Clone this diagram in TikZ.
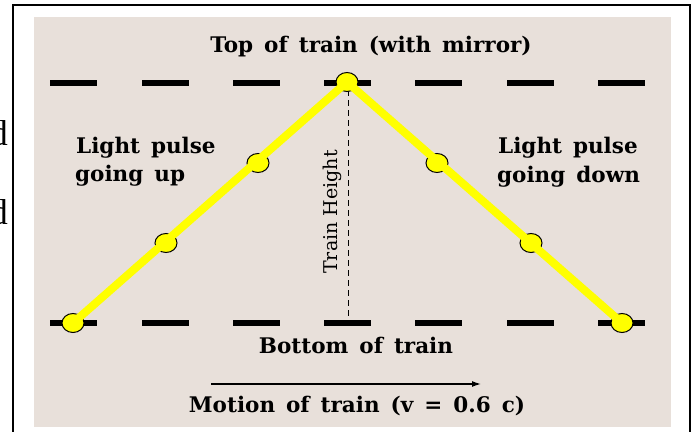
\documentclass[tikz,border=0pt]{standalone}
\usepackage{fontspec}
\setmainfont{DejaVu Serif}
\newfontfamily\dfont{Liberation Serif}
\usetikzlibrary{arrows.meta,shapes.geometric}
\definecolor{bg}{RGB}{232,224,218}
\definecolor{pulse}{RGB}{255,255,0}
\tikzset{
  lbl/.style={font={\fontsize{21.5}{25}\selectfont\bfseries\spaceskip=11pt\relax}, inner sep=0pt},
  dashseg/.style={line width=6.5pt, black},
  dot/.style={ellipse, draw=black, line width=1pt, fill=pulse, minimum width=22pt, minimum height=19pt, inner sep=0pt},
  beam/.style={pulse, line width=8pt, line join=miter},
  heightline/.style={black, line width=1pt, dash pattern=on 6pt off 4pt},
  motion/.style={black, line width=1.3pt, -{Latex[length=9pt,width=6pt]}}
}
\begin{document}
\begin{tikzpicture}[x=1pt,y=-1pt]
\useasboundingbox (0,0) rectangle (696,431);
\clip (0,0) rectangle (696,431);
\fill[white] (0,0) rectangle (696,431);
% clipped letters from the neighbouring text
\begin{scope}
  \clip (0,0) rectangle (8,431);
  \node[font=\dfont\fontsize{36}{36}\selectfont, anchor=base east, inner sep=0pt] (d1) at (8,145) {d};
  \node[font=\dfont\fontsize{36}{36}\selectfont, anchor=base east, inner sep=0pt] (d2) at (8,224) {d};
\end{scope}
% frame
\draw[line width=2pt] (12.5,440) -- (12.5,5) -- (689.5,5) -- (689.5,440);
% background
\fill[bg] (34,17) rectangle (671,427);
% dashed train floor and ceiling
\foreach \x in {50,142,233,324,415,507,598} {
  \draw[dashseg] (\x,83) -- ++(47,0);
  \draw[dashseg] (\x,323) -- ++(47,0);
}
% train height
\coordinate (htop) at (348,90);
\coordinate (hbot) at (348,323);
\draw[heightline] (htop) -- (hbot);
\node[font=\fontsize{19}{22}\selectfont, inner sep=0pt, anchor=base, rotate=90] (th) at (337,212) {Train Height};
% light pulse positions
\node[dot] (p0) at (73,323) {};
\node[dot] (p1) at (166,243) {};
\node[dot] (p2) at (258,163) {};
\node[dot] (p3) at (347,82) {};
\node[dot] (p4) at (437,163) {};
\node[dot] (p5) at (531,243) {};
\node[dot] (p6) at (622,323) {};
\draw[beam] (p0.center) -- (p3.center) -- (p6.center);
% labels
\node[lbl, anchor=base] (top) at (371,52) {Top of train (with mirror)};
\node[lbl, anchor=base west] (lu1) at (76,153) {Light pulse};
\node[lbl, anchor=base west] (lu2) at (75,181) {going up};
\node[lbl, anchor=base west] (ld1) at (498,153) {Light pulse};
\node[lbl, anchor=base west] (ld2) at (497,182) {going down};
\node[lbl, anchor=base] (bot) at (356,353) {Bottom of train};
% motion arrow
\coordinate (ma) at (211,384);
\coordinate (mb) at (481,384);
\draw[motion] (ma) -- (mb);
\node[lbl, anchor=base] (mot) at (357,412) {Motion of train (v = 0.6 c)};
\end{tikzpicture}
\end{document}
